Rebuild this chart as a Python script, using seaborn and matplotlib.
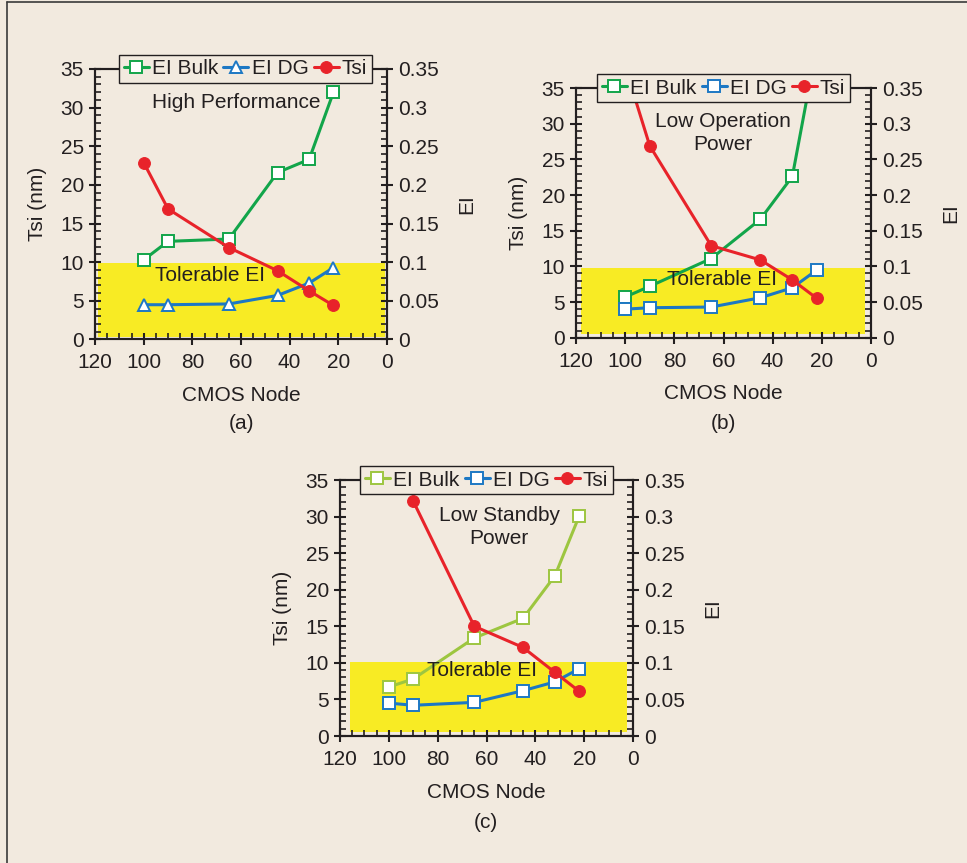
import numpy as np
import matplotlib
matplotlib.use("Agg")
import matplotlib.pyplot as plt
from matplotlib.lines import Line2D
from matplotlib.patches import Rectangle
from matplotlib.ticker import MultipleLocator
import seaborn as sns

# Data
nodes = [100, 90, 65, 45, 32, 22]

tsi_a = [22.9, 16.9, 11.9, 8.9, 6.3, 4.4]
bulk_a = [0.103, 0.127, 0.130, 0.216, 0.233, 0.320]
dg_a = [0.045, 0.045, 0.046, 0.057, 0.073, 0.093]

tsi_b = [38.0, 26.9, 12.9, 10.9, 8.1, 5.5]
bulk_b = [0.057, 0.072, 0.111, 0.166, 0.226, 0.41]
dg_b = [0.040, 0.042, 0.043, 0.056, 0.070, 0.095]

tsi_c = [np.nan, 32.1, 15.0, 12.1, 8.7, 6.1]
bulk_c = [0.067, 0.078, 0.134, 0.161, 0.219, 0.301]
dg_c = [0.045, 0.042, 0.046, 0.062, 0.074, 0.092]

legend_labels = ["EI Bulk", "EI DG", "Tsi"]

BG = "#f2eadf"
TXT = "#231f20"
YELLOW = "#f8eb24"
GREEN = "#12a54a"
LIGHT_GREEN = "#9dc640"
BLUE = "#1d78c4"
RED = "#e8232a"
FS = 15

sns.set_style("ticks")
plt.rcParams["font.family"] = ["Liberation Sans", "DejaVu Sans"]
plt.rcParams["text.color"] = TXT
plt.rcParams["axes.labelcolor"] = TXT
plt.rcParams["xtick.color"] = TXT
plt.rcParams["ytick.color"] = TXT

fig = plt.figure(figsize=(9.67, 8.63), dpi=100, facecolor=BG)

W, H = 967, 863


def px_axes(x0, x1, y_top, y_bot):
    return fig.add_axes([x0 / W, 1 - y_bot / H, (x1 - x0) / W, (y_bot - y_top) / H])


def draw_panel(ax, tsi, bulk, dg, bulk_color, dg_marker, title, tol_xy, title_xy,
               rect, tag, tag_xy, leg_x):
    ax2 = ax.twinx()
    # yellow tolerable region on the EI axis (drawn behind)
    x0, x1, y0, y1 = rect
    ax2.add_patch(Rectangle((x1, y0 / 100), x0 - x1, (y1 - y0) / 100,
                            facecolor=YELLOW, edgecolor="none", zorder=0))

    sns.lineplot(x=nodes, y=bulk, ax=ax2, color=bulk_color, lw=2.2, marker="s",
                 ms=8, mfc="white", mec=bulk_color, mew=1.4, label=legend_labels[0])
    sns.lineplot(x=nodes, y=dg, ax=ax2, color=BLUE, lw=2.2, marker=dg_marker,
                 ms=8, mfc="white", mec=BLUE, mew=1.4, label=legend_labels[1])
    sns.lineplot(x=nodes, y=tsi, ax=ax, color=RED, lw=2.2, marker="o",
                 ms=8.5, mfc=RED, mec=RED, label=legend_labels[2])

    ax.set_zorder(ax2.get_zorder() + 1)
    ax.patch.set_visible(False)
    ax2.patch.set_visible(False)

    ax.set_xlim(120, 0)
    ax.set_ylim(0, 35)
    ax2.set_ylim(0, 0.35)
    ax.set_xticks([120, 100, 80, 60, 40, 20, 0])
    ax.set_yticks(range(0, 36, 5))
    ax2.set_yticks([0, 0.05, 0.1, 0.15, 0.2, 0.25, 0.3, 0.35])
    ax2.set_yticklabels(["0", "0.05", "0.1", "0.15", "0.2", "0.25", "0.3", "0.35"])
    ax.xaxis.set_minor_locator(MultipleLocator(5))
    ax.yaxis.set_minor_locator(MultipleLocator(1))
    ax2.yaxis.set_minor_locator(MultipleLocator(0.01))

    for a in (ax, ax2):
        a.tick_params(which="major", direction="inout", length=8, width=1.5,
                      labelsize=FS, pad=4)
        a.tick_params(which="minor", direction="in", length=4, width=1.2)
        for s in a.spines.values():
            s.set_visible(True)
            s.set_linewidth(1.5)
            s.set_color(TXT)
    ax.tick_params(axis="x", which="both", top=False)
    ax.tick_params(axis="x", which="major", pad=6)
    ax2.tick_params(axis="x", which="both", top=False, bottom=False)

    ax.set_xlabel("CMOS Node", fontsize=FS, labelpad=10)
    ax.set_ylabel("Tsi (nm)", fontsize=FS, labelpad=10)
    ax2.set_ylabel("EI", fontsize=FS, labelpad=13)

    ax.text(*tol_xy, "Tolerable EI", fontsize=FS, ha="center", va="center", zorder=5)
    ax.text(*title_xy, title, fontsize=FS, ha="center", va="center",
            linespacing=1.25, zorder=5)

    for a in (ax, ax2):
        if a.get_legend() is not None:
            a.get_legend().remove()
    h2, l2 = ax2.get_legend_handles_labels()
    h1, l1 = ax.get_legend_handles_labels()
    leg = ax.legend(h2 + h1, l2 + l1, loc="center", bbox_to_anchor=(leg_x, 1.0),
                    ncol=3, fontsize=FS, frameon=True, fancybox=False,
                    handlelength=1.2, handletextpad=0.15, columnspacing=0.25,
                    borderpad=0.22, borderaxespad=0)
    leg.get_frame().set_edgecolor(TXT)
    leg.get_frame().set_linewidth(1.0)
    leg.get_frame().set_facecolor(BG)
    leg.get_frame().set_alpha(1)
    leg.set_zorder(10)

    fig.text(tag_xy[0] / W, 1 - tag_xy[1] / H, tag, fontsize=FS,
             ha="center", va="center")


ax_a = px_axes(95, 387, 69, 339.5)
ax_b = px_axes(576, 871, 88, 337.7)
ax_c = px_axes(340, 633, 480, 736)

draw_panel(ax_a, tsi_a, bulk_a, dg_a, GREEN, "^", "High Performance",
           (72.8, 8.3), (62, 30.7), (118.6, 0.95, 0.3, 9.9), "(a)", (241, 423), 0.515)
draw_panel(ax_b, tsi_b, bulk_b, dg_b, GREEN, "s", "Low Operation\nPower",
           (60.5, 8.1), (60.1, 28.7), (118, 2.4, 0.5, 9.8), "(b)", (723, 423), 0.5)
draw_panel(ax_c, tsi_c, bulk_c, dg_c, LIGHT_GREEN, "s", "Low Standby\nPower",
           (61.8, 8.9), (54.8, 28.6), (116, 2.5, 0.6, 10.15), "(c)", (486, 822), 0.5)

# frame around the figure (left and top edges visible)
fig.add_artist(Line2D([7 / W, 7 / W], [0, 1 - 2 / H], color="#3a3a3a", lw=1.2))
fig.add_artist(Line2D([7 / W, 1], [1 - 2 / H, 1 - 2 / H], color="#3a3a3a", lw=1.2))

fig.savefig("out.png", dpi=100, facecolor=BG)
